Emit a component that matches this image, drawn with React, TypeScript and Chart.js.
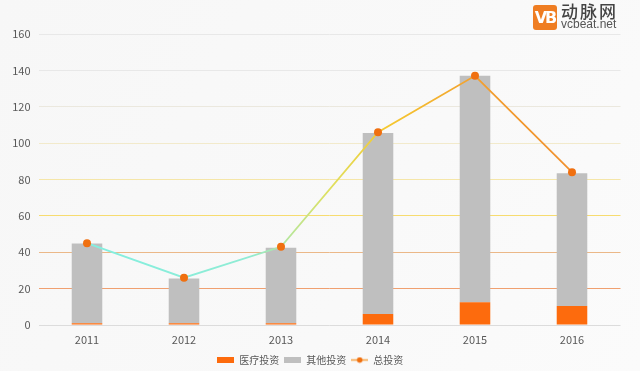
import React, { useEffect, useRef } from "react";
import { Chart, registerables } from "chart.js";

Chart.register(...registerables);

const categories = ["2011", "2012", "2013", "2014", "2015", "2016"];
const medical = [1, 1, 1, 6, 12.5, 10.5];
const other = [43.8, 24.5, 41.5, 99.5, 124.5, 73];
const total = [45, 26, 43, 106, 137, 84];
const seriesNames = ["医疗投资", "其他投资", "总投资"];

const gridColors = [
  "#dcdcdc",
  "#f0a070",
  "#ebb888",
  "#f7dc70",
  "#f5e6a8",
  "#f2eacb",
  "#ebe8de",
  "#e8e8e8",
  "#e8e8e8",
];

function makeRect(color: string) {
  const c = document.createElement("canvas");
  c.width = 17;
  c.height = 6;
  const x = c.getContext("2d")!;
  x.fillStyle = color;
  x.fillRect(0, 0, 17, 6);
  return c;
}

function makeLineDot() {
  const c = document.createElement("canvas");
  c.width = 17;
  c.height = 7;
  const x = c.getContext("2d")!;
  x.strokeStyle = "#f5a040";
  x.lineWidth = 1.5;
  x.beginPath();
  x.moveTo(0, 3.5);
  x.lineTo(17, 3.5);
  x.stroke();
  x.fillStyle = "#f07010";
  x.beginPath();
  x.arc(8.5, 3.5, 2.8, 0, Math.PI * 2);
  x.fill();
  return c;
}

export default function App() {
  const ref = useRef<HTMLCanvasElement>(null);
  useEffect(() => {
    document.body.style.margin = "0";
    const font = '"Noto Sans CJK SC", "Microsoft YaHei", sans-serif';
    const legendImgs = [makeRect("#fd6b0d"), makeRect("#bfbfbf"), makeLineDot()];
    const bgPlugin = {
      id: "bg",
      beforeDraw(chart: any) {
        const { ctx, width, height } = chart;
        ctx.save();
        const g = ctx.createLinearGradient(0, 0, width, height);
        g.addColorStop(0, "#f7f7f7");
        g.addColorStop(0.6, "#f9f9f9");
        g.addColorStop(1, "#fbfbfb");
        ctx.fillStyle = g;
        ctx.fillRect(0, 0, width, height);
        ctx.restore();
      },
    };
    const chart = new Chart(ref.current!, {
      type: "bar",
      data: {
        labels: categories,
        datasets: [
          {
            type: "bar",
            label: seriesNames[0],
            data: medical,
            backgroundColor: "#fd6b0d",
            stack: "bars",
            order: 1,
            barPercentage: 0.9,
            categoryPercentage: 0.35,
          },
          {
            type: "bar",
            label: seriesNames[1],
            data: other,
            backgroundColor: "#bfbfbf",
            stack: "bars",
            order: 1,
            barPercentage: 0.9,
            categoryPercentage: 0.35,
          },
          {
            type: "line",
            label: seriesNames[2],
            data: total,
            stack: "line",
            order: 0,
            borderWidth: 1.8,
            borderColor: (ctx: any) => {
              const area = ctx.chart.chartArea;
              if (!area) return "#f5a040";
              const g = ctx.chart.ctx.createLinearGradient(area.left, 0, area.right, 0);
              g.addColorStop(0, "#7ff0e4");
              g.addColorStop(0.36, "#90ecd4");
              g.addColorStop(0.5, "#dfe060");
              g.addColorStop(0.6, "#f5c830");
              g.addColorStop(0.75, "#f2a030");
              g.addColorStop(1, "#f08a30");
              return g;
            },
            pointRadius: 4,
            pointBackgroundColor: "#f07010",
            pointBorderWidth: 0,
            tension: 0,
          } as any,
        ],
      },
      options: {
        animation: false,
        responsive: false,
        layout: { padding: { top: 34, right: 19.5, left: 0, bottom: -4 } },
        plugins: {
          tooltip: { enabled: false },
          legend: {
            position: "bottom",
            labels: {
              usePointStyle: true,
              pointStyleWidth: 17,
              padding: 5,
              color: "#595959",
              font: { size: 10, family: font },
              generateLabels: () =>
                seriesNames.map((n, i) => ({
                  text: n,
                  pointStyle: legendImgs[i] as any,
                  fillStyle: "transparent",
                  strokeStyle: "transparent",
                  lineWidth: 0,
                  hidden: false,
                  datasetIndex: i,
                  fontColor: "#595959",
                })),
            },
          },
        },
        scales: {
          x: {
            stacked: true,
            afterFit: (s: any) => {
              s.height = 25;
            },
            grid: { display: false, drawTicks: false },
            border: { display: false },
            ticks: { color: "#595959", font: { size: 11, family: font }, padding: 8 },
          },
          y: {
            stacked: true,
            min: 0,
            max: 160,
            afterFit: (s: any) => {
              s.width = 38.5;
            },
            ticks: {
              stepSize: 20,
              color: "#595959",
              font: { size: 11, family: font },
              padding: 8,
            },
            border: { display: false },
            grid: {
              drawTicks: false,
              lineWidth: 1,
              color: (ctx: any) => gridColors[ctx.index] ?? "#e8e8e8",
            },
          },
        },
      },
      plugins: [bgPlugin],
    });
    return () => chart.destroy();
  }, []);

  return (
    <div style={{ position: "relative", width: 640, height: 371, fontFamily: '"Noto Sans CJK SC", sans-serif' }}>
      <canvas ref={ref} width={640} height={371} style={{ display: "block" }} />
      <div style={{ position: "absolute", left: 533, top: 5, width: 24, height: 25, background: "#ef7d22", borderRadius: 3, color: "#fff", fontWeight: 700, fontSize: 16, lineHeight: "25px", textAlign: "center", fontFamily: '"DejaVu Sans", sans-serif', letterSpacing: -2 }}>
        VB
      </div>
      <div style={{ position: "absolute", left: 561, top: 2, fontSize: 17, lineHeight: "18px", color: "#444", fontWeight: 500, letterSpacing: 2 }}>动脉网</div>
      <div style={{ position: "absolute", left: 561, top: 18, fontSize: 12, lineHeight: "13px", color: "#555", fontFamily: '"Liberation Sans", Arial, sans-serif' }}>vcbeat.net</div>
    </div>
  );
}
